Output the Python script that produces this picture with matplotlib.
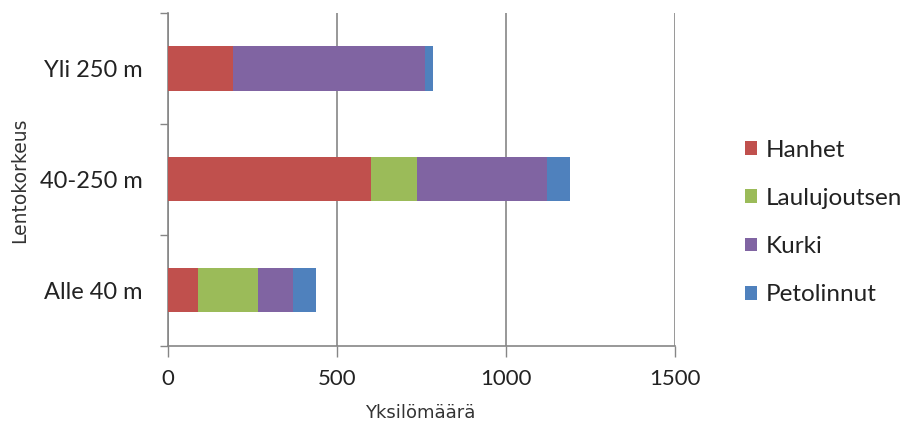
import matplotlib
matplotlib.use("Agg")
import matplotlib.pyplot as plt
import numpy as np

categories = ["Alle 40 m", "40-250 m", "Yli 250 m"]
series_names = ["Hanhet", "Laulujoutsen", "Kurki", "Petolinnut"]
hanhet = [90, 602, 191]
laulujoutsen = [175, 136, 0]
kurki = [106, 383, 569]
petolinnut = [66, 68, 23]
colors = ["#C0504D", "#9BBB59", "#8064A2", "#4F81BD"]
x_ticks = [0, 500, 1000, 1500]

DPI = 100
fig = plt.figure(figsize=(9.07, 4.23), dpi=DPI)
W, H = 907, 423
ax = fig.add_axes([168 / W, 1 - 345.5 / H, (675 - 168) / W, (345.5 - 13) / H])

ypos = np.arange(len(categories))
left = np.zeros(len(categories))
for name, vals, c in zip(series_names, [hanhet, laulujoutsen, kurki, petolinnut], colors):
    ax.barh(ypos, vals, left=left, height=0.4, color=c, label=name,
            edgecolor="none", zorder=3)
    left = left + np.array(vals)

ax.set_xlim(0, 1500)
ax.set_ylim(-0.5, 2.5)
ax.set_xticks(x_ticks)
ax.set_xticklabels([str(t) for t in x_ticks], fontfamily="Lato", fontsize=16, color="#222222")
ax.set_yticks(ypos)
ax.set_yticklabels(categories, fontfamily="Lato", fontsize=17, color="#222222")
ax.set_yticks([-0.5, 0.5, 1.5, 2.5], minor=True)

ax.tick_params(axis="y", which="major", length=0, pad=18)
ax.tick_params(axis="y", which="minor", length=6, width=1, color="#868686", direction="out")
ax.tick_params(axis="x", which="major", length=8, width=1, color="#868686", direction="out", pad=9)

ax.grid(axis="x", color="#868686", linewidth=1.2, zorder=0)
for s in ["top", "right"]:
    ax.spines[s].set_visible(False)
ax.spines["left"].set_color("#868686")
ax.spines["bottom"].set_color("#868686")
ax.spines["left"].set_linewidth(1.2)
ax.spines["bottom"].set_linewidth(1.2)
ax.set_axisbelow(True)

fig.text(420 / W, 1 - 413 / H, "Yksilömäärä", ha="center", va="center",
         fontfamily="DejaVu Sans", fontsize=13, color="#333333")
fig.text(20 / W, 1 - 180 / H, "Lentokorkeus", ha="center", va="center", rotation=90,
         fontfamily="DejaVu Sans", fontsize=13.5, color="#333333")

fs_leg = 17.5
fs_px = fs_leg * DPI / 72
leg = ax.legend(loc="center left", bbox_to_anchor=(745 / W, 1 - 222.5 / H),
                bbox_transform=fig.transFigure, frameon=False, borderpad=0,
                borderaxespad=0,
                prop={"family": "Lato", "size": fs_leg}, handlelength=12 / fs_px,
                handleheight=12 / fs_px, handletextpad=9 / fs_px,
                labelspacing=(51.5 - fs_px) / fs_px)
for t in leg.get_texts():
    t.set_color("#222222")

fig.savefig("out.png", dpi=DPI)
